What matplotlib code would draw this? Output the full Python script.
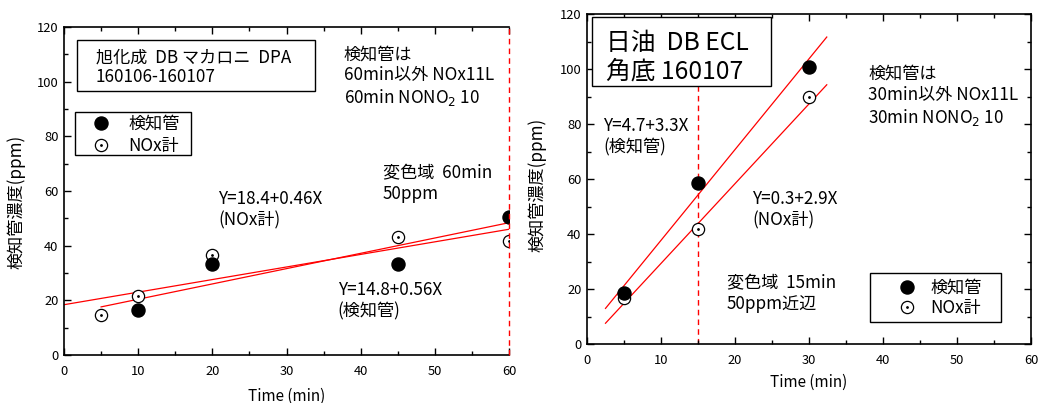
import matplotlib
matplotlib.use("Agg")
import matplotlib.pyplot as plt
import numpy as np
from matplotlib.patches import Rectangle
from matplotlib.legend_handler import HandlerTuple
from matplotlib.ticker import MultipleLocator

plt.rcParams['font.family'] = ['Noto Sans CJK JP', 'DejaVu Sans']

# ---- left chart data ----
L_tube_x = [10, 20, 45, 60]
L_tube_y = [16.6, 33.3, 33.3, 50.4]
L_nox_x = [5, 10, 20, 45, 60]
L_nox_y = [14.6, 21.7, 36.7, 43.2, 41.7]
L_fit_nox = (18.4, 0.46, 0, 60)     # intercept, slope, x start, x end
L_fit_tube = (14.8, 0.56, 5, 60)
L_vline = 60

# ---- right chart data ----
R_tube_x = [5, 15, 30]
R_tube_y = [18.7, 58.4, 100.8]
R_nox_x = [5, 15, 30]
R_nox_y = [16.7, 41.7, 89.7]
R_fit_tube = (4.7, 3.3, 2.5, 32.4)
R_fit_nox = (0.3, 2.9, 2.5, 32.4)
R_vline = 15

x_ticks = [0, 10, 20, 30, 40, 50, 60]
y_ticks = [0, 20, 40, 60, 80, 100, 120]
legend_labels = ['検知管', 'NOx計']

FS = 12.3

fig = plt.figure(figsize=(10.4, 4.03), dpi=100)
axL = fig.add_axes([64/1040, 1-355/403, 445/1040, 328/403])
axR = fig.add_axes([587/1040, 1-344/403, 444/1040, 330/403])

def style(ax, right_ticks, ylab_xy, xlab_xy):
    ax.set_xlim(0, 60)
    ax.set_ylim(0, 120)
    ax.set_xticks(x_ticks)
    ax.set_yticks(y_ticks)
    ax.xaxis.set_minor_locator(MultipleLocator(5))
    ax.yaxis.set_minor_locator(MultipleLocator(10))
    ax.tick_params(which='both', direction='in', top=True, right=right_ticks,
                   labelsize=9.3, width=1.0)
    ax.tick_params(axis='x', pad=7)
    ax.tick_params(axis='y', pad=4)
    ax.tick_params(which='major', length=5)
    ax.tick_params(which='minor', length=3)
    for s in ax.spines.values():
        s.set_linewidth(1.2)
    ax.set_xlabel('Time (min)', fontsize=11)
    ax.set_ylabel('検知管濃度(ppm)', fontsize=12.3)
    ax.yaxis.set_label_coords(*ylab_xy)
    ax.xaxis.set_label_coords(*xlab_xy)

def fit_line(ax, fit):
    a, b, x0, x1 = fit
    xs = np.array([x0, x1])
    ax.plot(xs, a + b*xs, color='red', lw=0.9, zorder=2)

def points(ax, tx, ty, nx, ny):
    f, = ax.plot(tx, ty, 'o', ms=9.4, color='black', zorder=4)
    o, = ax.plot(nx, ny, 'o', ms=8.8, mfc='white', mec='black', mew=0.9, zorder=3)
    d, = ax.plot(nx, ny, 'o', ms=1.0, color='black', zorder=3.5)
    return f, o, d

def legend_box(ax, handles, anchor, frame, spacing, textpad):
    leg = ax.legend(handles, legend_labels, handler_map={tuple: HandlerTuple(ndivide=1)},
                    loc='center left', bbox_to_anchor=anchor, borderaxespad=0,
                    frameon=False, fontsize=FS, handlelength=1.6,
                    handletextpad=textpad, borderpad=0, labelspacing=spacing)
    leg.set_zorder(8)
    ax.add_patch(Rectangle(frame[:2], frame[2], frame[3], transform=ax.transAxes,
                           fill=True, fc='white', ec='black', lw=1.0, zorder=6))

# ---- left ----
style(axL, False, (-0.0854, 0.466), (0.5, -0.1006))
axL.spines['right'].set_visible(False)
fit_line(axL, L_fit_nox)
fit_line(axL, L_fit_tube)
axL.axvline(L_vline, color='red', ls=(0, (4, 3)), lw=1.0, clip_on=False, zorder=5)
f, o, d = points(axL, L_tube_x, L_tube_y, L_nox_x, L_nox_y)
legend_box(axL, [f, (o, d)], (0.0528, 0.671), (0.0247, 0.6098, 0.2607, 0.1311), 0.25, 0.8)
axL.add_patch(Rectangle((0.029, 0.805), 0.535, 0.155, transform=axL.transAxes,
                        fill=True, fc='white', ec='black', lw=1.0, zorder=6))
axL.text(4.3, 112.3, '旭化成  DB マカロニ  DPA\n160106-160107', fontsize=FS,
         va='top', ha='left', linespacing=1.15, zorder=7)
axL.text(37.7, 113.3, '検知管は\n60min以外 NOx11L\n60min NONO$_2$ 10', fontsize=FS,
         va='top', ha='left', linespacing=1.2)
axL.text(43.0, 69.8, '変色域  60min\n50ppm', fontsize=FS, va='top', ha='left', linespacing=1.2)
axL.text(20.8, 60.3, 'Y=18.4+0.46X\n(NOx計)', fontsize=FS, va='top', ha='left', linespacing=1.2)
axL.text(36.9, 27.0, 'Y=14.8+0.56X\n(検知管)', fontsize=FS, va='top', ha='left', linespacing=1.2)

# ---- right ----
style(axR, True, (-0.0923, 0.482), (0.5, -0.0909))
fit_line(axR, R_fit_tube)
fit_line(axR, R_fit_nox)
axR.axvline(R_vline, color='red', ls=(0, (4, 3)), lw=1.0, zorder=1)
f, o, d = points(axR, R_tube_x, R_tube_y, R_nox_x, R_nox_y)
legend_box(axR, [f, (o, d)], (0.690, 0.1394), (0.6374, 0.0667, 0.295, 0.1485), 0.12, 0.56)
axR.add_patch(Rectangle((0.011, 0.782), 0.403, 0.209, transform=axR.transAxes,
                        fill=True, fc='white', ec='black', lw=1.0, zorder=6))
axR.text(2.6, 114.3, '日油  DB ECL\n角底 160107', fontsize=17.8,
         va='top', ha='left', linespacing=1.12, zorder=7)
axR.text(38.0, 101.5, '検知管は\n30min以外 NOx11L\n30min NONO$_2$ 10', fontsize=FS,
         va='top', ha='left', linespacing=1.2)
axR.text(2.2, 82.5, 'Y=4.7+3.3X\n(検知管)', fontsize=FS, va='top', ha='left', linespacing=1.2)
axR.text(22.3, 56.0, 'Y=0.3+2.9X\n(NOx計)', fontsize=FS, va='top', ha='left', linespacing=1.2)
axR.text(18.9, 25.5, '変色域  15min\n50ppm近辺', fontsize=FS, va='top', ha='left', linespacing=1.2)

fig.savefig('out.png', dpi=100)
